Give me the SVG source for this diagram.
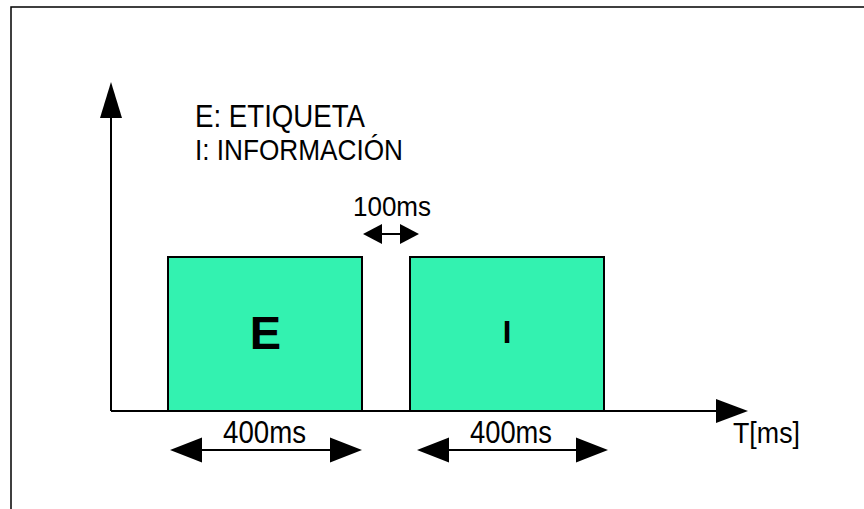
<svg xmlns="http://www.w3.org/2000/svg" width="864" height="509" viewBox="0 0 864 509">
<style>
.t{font-family:"Liberation Sans",Arial,sans-serif;fill:#000}
.box{fill:#33F2B0;stroke:#000;stroke-width:2}
.ln{stroke:#000;stroke-width:2;fill:none}
.ah{fill:#000}
</style>
<rect x="0" y="0" width="864" height="509" fill="#fff"/>
<rect x="11" y="7" width="900" height="560" fill="none" stroke="#000" stroke-width="1.5"/>
<g id="legend">
<text class="t" x="195" y="127" font-size="30.5" textLength="170" lengthAdjust="spacingAndGlyphs">E: ETIQUETA</text>
<text class="t" x="195" y="160" font-size="30" textLength="208" lengthAdjust="spacingAndGlyphs">I: INFORMACIÓN</text>
</g>
<g id="nodeE">
<rect class="box" x="168" y="257" width="194" height="154"/>
<text class="t" x="265.5" y="349" font-size="47" font-weight="bold" text-anchor="middle">E</text>
</g>
<g id="nodeI">
<rect class="box" x="410" y="257" width="194" height="154"/>
<text class="t" x="507" y="343" font-size="31" font-weight="bold" text-anchor="middle">I</text>
</g>
<g id="connectors">
<line class="ln" x1="111" y1="411" x2="111" y2="110"/>
<polygon class="ah" points="111,82 100,118 122,118"/>
<line class="ln" x1="111" y1="411" x2="725" y2="411"/>
<polygon class="ah" points="748,411 716,399 716,423"/>
<line class="ln" x1="195" y1="450" x2="340" y2="450"/>
<polygon class="ah" points="170,450 202,437.5 202,462.5"/>
<polygon class="ah" points="362,450 330,437.5 330,462.5"/>
<line class="ln" x1="440" y1="450" x2="585" y2="450"/>
<polygon class="ah" points="417,450 449,437.5 449,462.5"/>
<polygon class="ah" points="608,450 576,437.5 576,462.5"/>
<line class="ln" x1="375" y1="234" x2="407" y2="234"/>
<polygon class="ah" points="363,234 382,224 382,244"/>
<polygon class="ah" points="419,234 400,224 400,244"/>
</g>
<g id="labels">
<text class="t" x="353" y="216" font-size="27" textLength="78" lengthAdjust="spacingAndGlyphs">100ms</text>
<text class="t" x="223" y="443" font-size="32" textLength="83" lengthAdjust="spacingAndGlyphs">400ms</text>
<text class="t" x="470" y="443" font-size="32" textLength="82" lengthAdjust="spacingAndGlyphs">400ms</text>
<text class="t" x="733" y="443" font-size="29.5" textLength="67" lengthAdjust="spacingAndGlyphs">T[ms]</text>
</g>
</svg>
